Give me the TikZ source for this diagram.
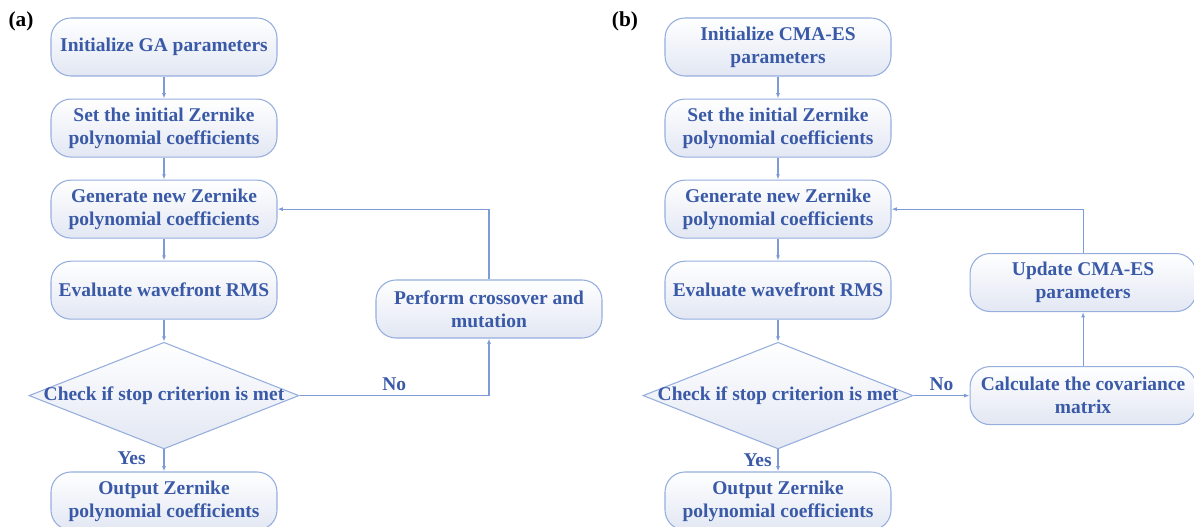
\documentclass[tikz,border=0pt]{standalone}
\usepackage{fontspec}
\setmainfont{Liberation Serif}
\usepackage{tikz}
\usetikzlibrary{shapes.geometric}
\usetikzlibrary{positioning}
\usetikzlibrary{arrows.meta}
\definecolor{txtblue}{RGB}{58,90,168}
\definecolor{edgeblue}{RGB}{150,174,222}
\definecolor{lineblue}{RGB}{125,155,215}
\definecolor{shadeblue}{RGB}{226,231,243}
\tikzset{>=stealth}
\tikzstyle{line} = [draw=lineblue, line width=0.8pt, -{Latex[length=4pt,width=3pt]}]

\begin{document}
\begin{tikzpicture}[x=0.75pt, y=0.75pt,
      node distance=16.5pt,
      proc/.style={draw=edgeblue,
      line width=0.8pt,
      rounded corners=15pt,
      top color=white, bottom color=shadeblue,
      minimum width=169.5pt, minimum height=43.5pt,
      inner sep=0pt, align=center, text=txtblue,
      font=\fontsize{14.6}{17.3}\selectfont\bfseries},
      decision/.style={diamond, draw=edgeblue,
      line width=0.8pt,
      top color=white, bottom color=shadeblue,
      minimum width=202.5pt, minimum height=80pt, inner sep=0pt},
      dtext/.style={text=txtblue, font=\fontsize{14.6}{17.3}\selectfont\bfseries},
      tag/.style={font=\fontsize{16}{19}\selectfont\bfseries}]
    \useasboundingbox (0,0) rectangle (1194,-527);
    %% (a) GA
    \node [tag] (tagA) at (21,-21) {(a)};
    \node [proc] (initA) at (164,-47) {Initialize GA parameters};
    \node [proc, below=of initA] (setA) {Set the initial Zernike\\polynomial coefficients};
    \node [proc, below=of setA] (genA) {Generate new Zernike\\polynomial coefficients};
    \node [proc, below=of genA] (evalA) {Evaluate wavefront RMS};
    \node [decision, below=of evalA] (chkA) {};
    \node [dtext] (chkAtext) at (chkA) {Check if stop criterion is met};
    \node [proc, below=of chkA] (outA) {Output Zernike\\polynomial coefficients};
    \node [proc] (crossA) at (489,-309) {Perform crossover and\\mutation};
    \path [line] (initA) -- (setA);
    \path [line] (setA) -- (genA);
    \path [line] (genA) -- (evalA);
    \path [line] (evalA) -- (chkA);
    \path [line] (chkA) to node [dtext, pos=0.4, left=10pt] {Yes} (outA);
    \path [line] (chkA.east) -| node [dtext, pos=0.25, above] {No} (crossA);
    \path [line] (crossA) |- (genA);
    %% (b) CMA-ES
    \node [tag] (tagB) at (625,-21) {(b)};
    \node [proc] (initB) at (778,-47) {Initialize CMA-ES\\parameters};
    \node [proc, below=of initB] (setB) {Set the initial Zernike\\polynomial coefficients};
    \node [proc, below=of setB] (genB) {Generate new Zernike\\polynomial coefficients};
    \node [proc, below=of genB] (evalB) {Evaluate wavefront RMS};
    \node [decision, below=of evalB] (chkB) {};
    \node [dtext] (chkBtext) at (chkB) {Check if stop criterion is met};
    \node [proc, below=of chkB] (outB) {Output Zernike\\polynomial coefficients};
    \node [proc, right=42pt of chkB] (covB) {Calculate the covariance\\matrix};
    \node [proc, above=40.5pt of covB] (updB) {Update CMA-ES\\parameters};
    \path [line] (initB) -- (setB);
    \path [line] (setB) -- (genB);
    \path [line] (genB) -- (evalB);
    \path [line] (evalB) -- (chkB);
    \path [line] (chkB) to node [dtext, midway, left=1pt] {Yes} (outB);
    \path [line] (chkB) to node [dtext, midway, above] {No} (covB);
    \path [line] (covB) -- (updB);
    \path [line] (updB) |- (genB);
  \end{tikzpicture}
\end{document}
